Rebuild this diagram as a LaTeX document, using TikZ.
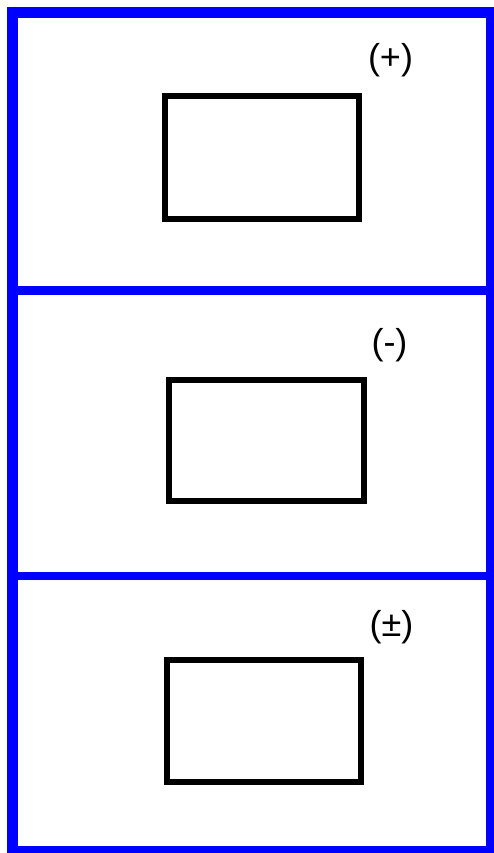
\documentclass[tikz,border=0pt]{standalone}
\usepackage{fontspec}
\setmainfont{Liberation Sans}
\begin{document}
\begin{tikzpicture}[x=1pt, y=-1pt, every node/.style={font=\fontsize{36}{40}\selectfont, inner sep=0pt}]
  \useasboundingbox (0,0) rectangle (493,853);
  \fill[white] (0,0) rectangle (493,853);
  % outer frame and dividers
  \draw[blue, line width=11pt] (12.5,12.5) rectangle (491.5,851.5);
  \draw[blue, line width=9pt] (7,290.5) -- (493,290.5);
  \draw[blue, line width=8pt] (7,575.5) -- (493,575.5);
  % top panel
  \node[draw, line width=6pt, minimum width=194pt, minimum height=123pt] (boxplus) at (262,157.5) {};
  \node (plus) at (390.5,60.5) {(+)};
  % middle panel
  \node[draw, line width=6pt, minimum width=195pt, minimum height=121pt] (boxminus) at (266.5,440.5) {};
  \node (minus) at (389.5,345) {(-)};
  % bottom panel
  \node[draw, line width=6pt, minimum width=194pt, minimum height=122pt] (boxpm) at (264,721) {};
  \node (pm) at (391.5,627) {(±)};
\end{tikzpicture}
\end{document}
